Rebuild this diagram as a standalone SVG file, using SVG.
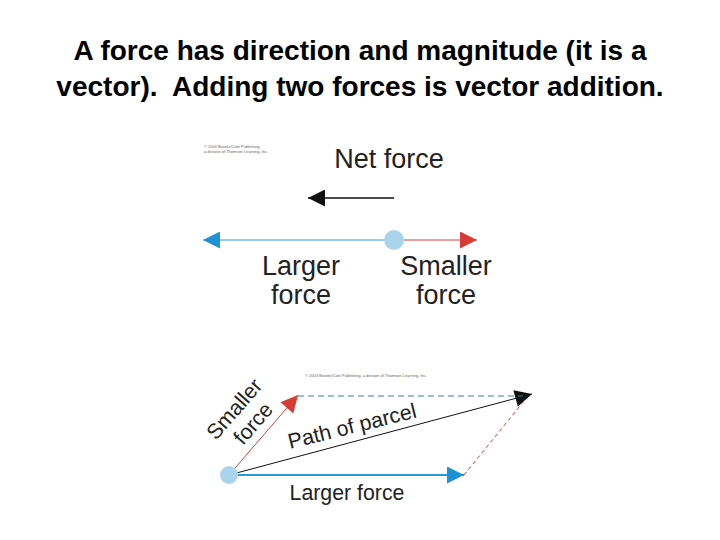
<svg xmlns="http://www.w3.org/2000/svg" width="720" height="540" viewBox="0 0 720 540">
<style>
.title{font-family:"Liberation Sans",Arial,sans-serif;font-size:28px;font-weight:bold;fill:#000;text-anchor:middle;white-space:pre}
.lbl{font-family:"Liberation Sans",Arial,sans-serif;font-size:27px;fill:#222;text-anchor:middle}
.lbl2{font-family:"Liberation Sans",Arial,sans-serif;font-size:21.3px;fill:#222}
.copy{font-family:"Liberation Sans",Arial,sans-serif;font-size:4px;fill:#666}
.blue{stroke:#2a9ad6;fill:none}
.red{stroke:#d7403a;fill:none}
.blk{stroke:#111;fill:none}
</style>
<defs>
<marker id="hb" viewBox="0 0 10 10" refX="10" refY="5" markerWidth="18" markerHeight="17" markerUnits="userSpaceOnUse" orient="auto"><path d="M0,0L10,5L0,10z" fill="#1d93d6"/></marker>
<marker id="hr" viewBox="0 0 10 10" refX="10" refY="5" markerWidth="18" markerHeight="17" markerUnits="userSpaceOnUse" orient="auto"><path d="M0,0L10,5L0,10z" fill="#d63c36"/></marker>
<marker id="hk" viewBox="0 0 10 10" refX="10" refY="5" markerWidth="18" markerHeight="17" markerUnits="userSpaceOnUse" orient="auto"><path d="M0,0L10,5L0,10z" fill="#111"/></marker>
</defs>
<rect width="720" height="540" fill="#fff"/>
<g id="title">
<text class="title" x="360" y="60">A force has direction and magnitude (it is a</text>
<text class="title" x="360" y="96" xml:space="preserve">vector).  Adding two forces is vector addition.</text>
</g>
<g id="copyright1">
<text class="copy" x="204" y="148">© 2000 Brooks/Cole Publishing</text>
<text class="copy" x="204" y="153">a division of Thomson Learning, Inc.</text>
</g>
<g id="copyright2">
<text class="copy" x="305" y="377">© 2003 Brooks/Cole Publishing, a division of Thomson Learning, Inc.</text>
</g>
<g id="connectors">
<line class="blk" x1="394" y1="198" x2="308" y2="198" stroke-width="1.5" marker-end="url(#hk)"/>
<line class="blue" x1="394" y1="240" x2="203" y2="240" stroke-width="1" marker-end="url(#hb)"/>
<line class="red" x1="394" y1="240" x2="477" y2="240" stroke-width="1" marker-end="url(#hr)"/>
<line class="blue" x1="229" y1="475" x2="464" y2="475" stroke-width="2" marker-end="url(#hb)"/>
<line class="red" x1="229" y1="475" x2="298" y2="395" stroke-width="1" marker-end="url(#hr)"/>
<line class="blk" x1="229" y1="475" x2="532" y2="394" stroke-width="1" marker-end="url(#hk)"/>
<line x1="298" y1="396" x2="523" y2="396" stroke="#3d7fa6" stroke-width="1" stroke-dasharray="6,4"/>
<line x1="464" y1="475" x2="524" y2="401" stroke="#d7403a" stroke-width="1" stroke-dasharray="4,3"/>
</g>
<g id="net-force">
<text class="lbl" x="389" y="168">Net force</text>
</g>
<g id="parcel-top">
<circle cx="394" cy="240" r="10" fill="#a9d4eb"/>
</g>
<g id="larger-top">
<text class="lbl" x="301" y="275">Larger</text>
<text class="lbl" x="301" y="304">force</text>
</g>
<g id="smaller-top">
<text class="lbl" x="446" y="275">Smaller</text>
<text class="lbl" x="446" y="304">force</text>
</g>
<g id="parcel-bottom">
<circle cx="229" cy="475" r="9" fill="#a9d4eb"/>
</g>
<g id="larger-bottom">
<text class="lbl2" x="347" y="500" text-anchor="middle">Larger force</text>
</g>
<g id="smaller-bottom">
<text class="lbl2" transform="translate(216,441) rotate(-49)">Smaller</text>
<text class="lbl2" transform="translate(243,446) rotate(-49)">force</text>
</g>
<g id="path-label">
<text class="lbl2" transform="translate(290,449) rotate(-14)">Path of parcel</text>
</g>
</svg>
